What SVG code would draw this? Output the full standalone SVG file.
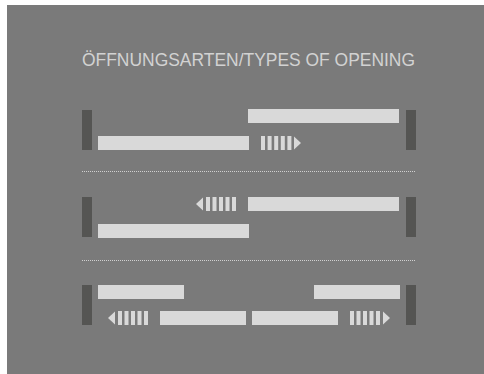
<svg xmlns="http://www.w3.org/2000/svg" width="484" height="374" viewBox="0 0 484 374">
<style>
.bg{fill:#7a7a7a}
.post{fill:#555553}
.panel{fill:#d9d9d9}
.sep{stroke:#d0d0d0;stroke-width:1;stroke-dasharray:1 1;fill:none}
.title{font-family:"Liberation Sans",Arial,sans-serif;font-size:19px;fill:#d2d2d2}
</style>
<rect class="bg" x="7" y="5" width="477" height="369"/>
<text class="title" x="82" y="66" textLength="333" lengthAdjust="spacingAndGlyphs">ÖFFNUNGSARTEN/TYPES OF OPENING</text>
<g id="row1">
<rect class="post" x="82" y="110" width="10" height="40"/>
<rect class="post" x="406" y="110" width="10" height="40"/>
<rect class="panel" x="248" y="109" width="151" height="14"/>
<rect class="panel" x="98" y="136" width="151" height="14"/>
<g class="panel">
<rect x="261" y="136" width="4" height="14"/>
<rect x="267.6" y="136" width="4" height="14"/>
<rect x="274.2" y="136" width="4" height="14"/>
<rect x="280.8" y="136" width="4" height="14"/>
<rect x="287.4" y="136" width="4" height="14"/>
<polygon points="294,136.5 301,143 294,149.5"/>
</g>
</g>
<g id="row2">
<rect class="post" x="82" y="197" width="10" height="40"/>
<rect class="post" x="406" y="197" width="10" height="40"/>
<rect class="panel" x="248" y="197" width="151" height="14"/>
<rect class="panel" x="98" y="224" width="151" height="14"/>
<g class="panel">
<polygon points="203,197.5 196,204 203,210.5"/>
<rect x="206" y="197" width="4" height="14"/>
<rect x="212.5" y="197" width="4" height="14"/>
<rect x="219" y="197" width="4" height="14"/>
<rect x="225.5" y="197" width="4" height="14"/>
<rect x="232" y="197" width="4" height="14"/>
</g>
</g>
<g id="row3">
<rect class="post" x="82" y="285" width="10" height="40"/>
<rect class="post" x="406" y="285" width="10" height="40"/>
<rect class="panel" x="98" y="285" width="86" height="14"/>
<rect class="panel" x="314" y="285" width="86" height="14"/>
<rect class="panel" x="160" y="311" width="86" height="14"/>
<rect class="panel" x="252" y="311" width="86" height="14"/>
<g class="panel">
<polygon points="115,311.5 108,318 115,324.5"/>
<rect x="118" y="311" width="4" height="14"/>
<rect x="124.5" y="311" width="4" height="14"/>
<rect x="131" y="311" width="4" height="14"/>
<rect x="137.5" y="311" width="4" height="14"/>
<rect x="144" y="311" width="4" height="14"/>
<rect x="350" y="311" width="4" height="14"/>
<rect x="356.5" y="311" width="4" height="14"/>
<rect x="363" y="311" width="4" height="14"/>
<rect x="369.5" y="311" width="4" height="14"/>
<rect x="376" y="311" width="4" height="14"/>
<polygon points="383,311.5 390,318 383,324.5"/>
</g>
</g>
<g id="connectors">
<line class="sep" x1="82" y1="171.5" x2="415" y2="171.5"/>
<line class="sep" x1="82" y1="260.5" x2="415" y2="260.5"/>
</g>
</svg>
